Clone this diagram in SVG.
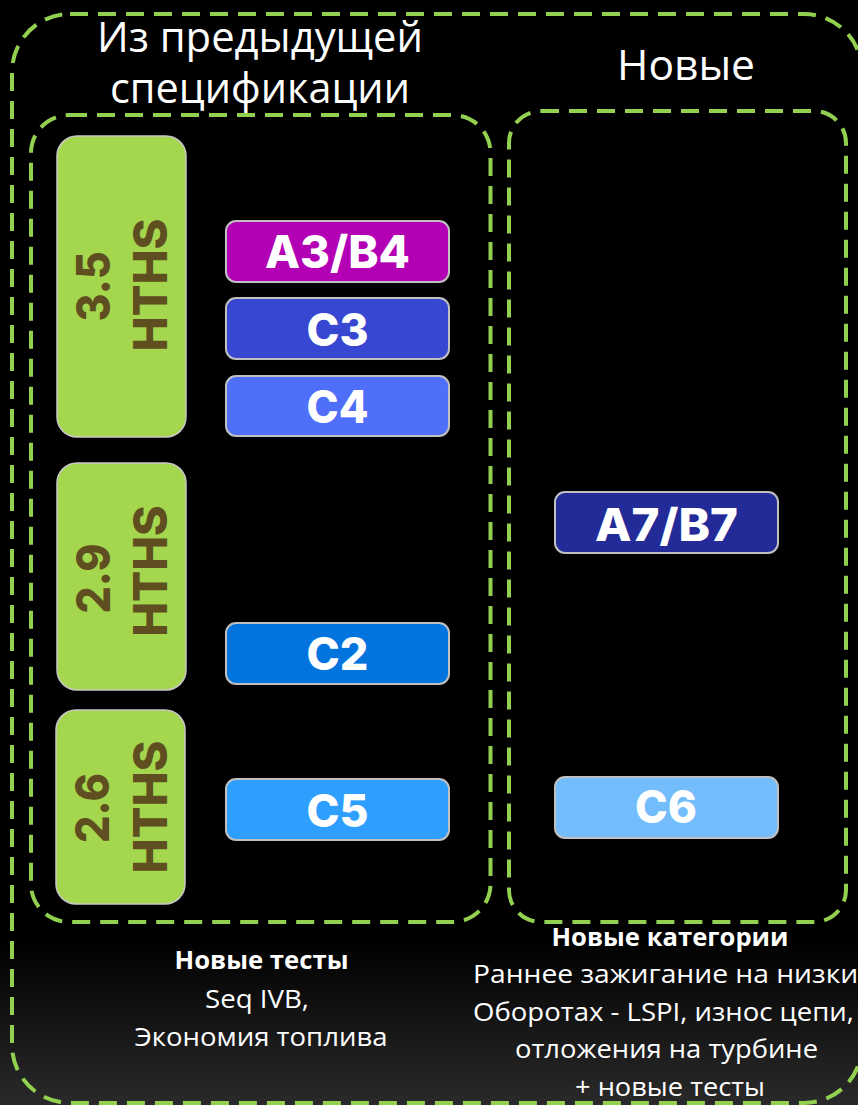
<svg xmlns="http://www.w3.org/2000/svg" width="858" height="1105" viewBox="0 0 858 1105">
<defs>
<linearGradient id="bg" x1="0" y1="0" x2="0" y2="1105" gradientUnits="userSpaceOnUse">
<stop offset="0" stop-color="#000"/>
<stop offset="0.85" stop-color="#000"/>
<stop offset="1" stop-color="#2a2a2a"/>
</linearGradient>
<style>
.frame{fill:none;stroke:#92D050;stroke-width:4;stroke-dasharray:18 10}
.hb{fill:#A4D64E;stroke:#C8C8C8;stroke-width:1.5}
.ht{font-family:Inter,"Open Sans",sans-serif;font-weight:800;font-size:47px;fill:#5E4E20;text-anchor:middle}
.lb{stroke:#C0C0C0;stroke-width:2}
.lt{font-family:Inter,"Open Sans",sans-serif;font-weight:800;font-size:45px;fill:#fff;text-anchor:middle}
.tt{font-family:"Open Sans","Noto Sans",sans-serif;font-size:42px;fill:#fff;text-anchor:middle}
.bt{font-family:"Open Sans","Noto Sans",sans-serif;font-size:25px;fill:#fff;text-anchor:middle}
.bb{font-weight:700}
.st{text-anchor:start}
</style>
</defs>
<rect x="0" y="0" width="858" height="1105" fill="url(#bg)"/>

<g id="outer-frame"><rect class="frame" x="12" y="14" width="850" height="1089" rx="58"/></g>
<g id="left-group"><rect class="frame" x="31" y="115" width="459.5" height="807" rx="38"/></g>
<g id="right-group"><rect class="frame" x="509" y="111" width="337" height="811" rx="32"/></g>

<g id="title-left">
<text class="tt" x="260" y="52" textLength="326" lengthAdjust="spacingAndGlyphs">Из предыдущей</text>
<text class="tt" x="260" y="103" textLength="300" lengthAdjust="spacingAndGlyphs">спецификации</text>
</g>
<g id="title-right"><text class="tt" x="686" y="80" textLength="138" lengthAdjust="spacingAndGlyphs">Новые</text></g>

<g id="hths-35">
<rect class="hb" x="57" y="136" width="129" height="301" rx="20"/>
<text class="ht" transform="translate(110,286.5) rotate(-90)" textLength="70" lengthAdjust="spacingAndGlyphs">3.5</text>
<text class="ht" transform="translate(167,285) rotate(-90)" textLength="133" lengthAdjust="spacingAndGlyphs">HTHS</text>
</g>
<g id="hths-29">
<rect class="hb" x="57" y="463" width="129" height="227" rx="20"/>
<text class="ht" transform="translate(110,578.5) rotate(-90)" textLength="70" lengthAdjust="spacingAndGlyphs">2.9</text>
<text class="ht" transform="translate(167,571) rotate(-90)" textLength="131" lengthAdjust="spacingAndGlyphs">HTHS</text>
</g>
<g id="hths-26">
<rect class="hb" x="56" y="710" width="129" height="194" rx="20"/>
<text class="ht" transform="translate(109,808) rotate(-90)" textLength="70" lengthAdjust="spacingAndGlyphs">2.6</text>
<text class="ht" transform="translate(166.5,807) rotate(-90)" textLength="133" lengthAdjust="spacingAndGlyphs">HTHS</text>
</g>

<g id="a3b4"><rect class="lb" x="226" y="221" width="223" height="61" rx="10" fill="#B400B4"/>
<text class="lt" x="337.5" y="268" textLength="145" lengthAdjust="spacingAndGlyphs">A3/B4</text></g>
<g id="c3"><rect class="lb" x="226" y="298" width="223" height="61" rx="10" fill="#3747D1"/>
<text class="lt" x="337.5" y="346" textLength="62" lengthAdjust="spacingAndGlyphs">C3</text></g>
<g id="c4"><rect class="lb" x="226" y="376" width="223" height="60" rx="10" fill="#4F6EFA"/>
<text class="lt" x="337.5" y="423" textLength="62" lengthAdjust="spacingAndGlyphs">C4</text></g>
<g id="c2"><rect class="lb" x="226" y="623" width="223" height="61" rx="10" fill="#0174DD"/>
<text class="lt" x="337.5" y="670" textLength="62" lengthAdjust="spacingAndGlyphs">C2</text></g>
<g id="c5"><rect class="lb" x="226" y="779" width="223" height="61" rx="10" fill="#2F9FFF"/>
<text class="lt" x="337.5" y="826.5" textLength="62" lengthAdjust="spacingAndGlyphs">C5</text></g>
<g id="a7b7"><rect class="lb" x="555" y="492" width="223" height="61" rx="10" fill="#232B99"/>
<text class="lt" x="666.5" y="540.5" textLength="143" lengthAdjust="spacingAndGlyphs">A7/B7</text></g>
<g id="c6"><rect class="lb" x="555" y="777" width="223" height="61" rx="10" fill="#73BDFD"/>
<text class="lt" x="666" y="822.5" textLength="62" lengthAdjust="spacingAndGlyphs">C6</text></g>

<g id="connectors"/>

<g id="note-left">
<text class="bt bb" x="261.5" y="969" textLength="174" lengthAdjust="spacingAndGlyphs">Новые тесты</text>
<text class="bt" x="257" y="1008" textLength="104" lengthAdjust="spacingAndGlyphs">Seq IVB,</text>
<text class="bt" x="261" y="1046" textLength="253" lengthAdjust="spacingAndGlyphs">Экономия топлива</text>
</g>
<g id="note-right">
<text class="bt bb" x="670" y="946" textLength="237" lengthAdjust="spacingAndGlyphs">Новые категории</text>
<text class="bt st" x="473" y="983" textLength="400" lengthAdjust="spacingAndGlyphs">Раннее зажигание на низких</text>
<text class="bt st" x="473" y="1021" textLength="381" lengthAdjust="spacingAndGlyphs">Оборотах - LSPI, износ цепи,</text>
<text class="bt" x="666.5" y="1058" textLength="303" lengthAdjust="spacingAndGlyphs">отложения на турбине</text>
<text class="bt" x="670" y="1096" textLength="190" lengthAdjust="spacingAndGlyphs">+ новые тесты</text>
</g>
</svg>
